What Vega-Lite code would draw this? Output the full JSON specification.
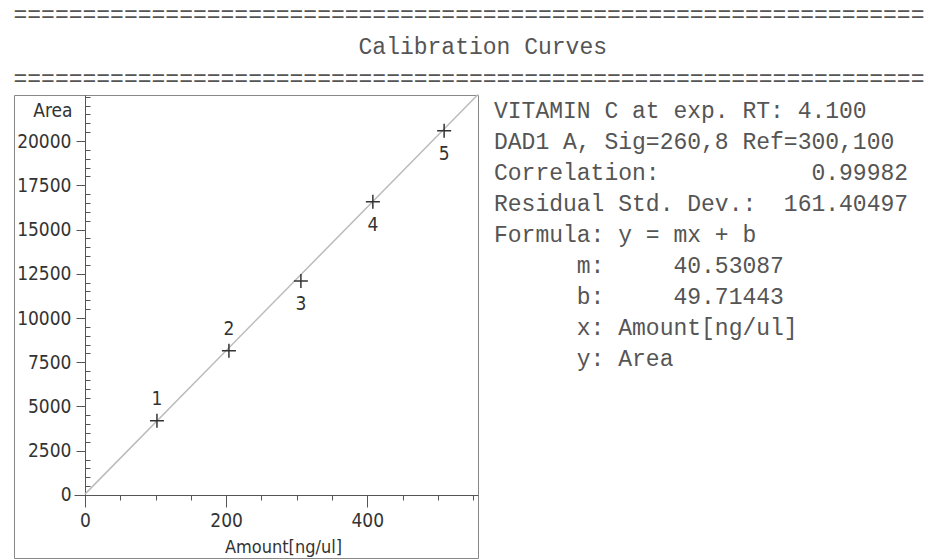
{
  "$schema": "https://vega.github.io/schema/vega-lite/v6.json",
  "background": "white",
  "padding": {"left": 13, "top": 4, "right": 0, "bottom": 0},
  "title": {
    "text": [
      "==================================================================",
      "\u200b\u00a0\u00a0\u00a0\u00a0\u00a0\u00a0\u00a0\u00a0\u00a0\u00a0\u00a0\u00a0\u00a0\u00a0\u00a0\u00a0\u00a0\u00a0\u00a0\u00a0\u00a0\u00a0\u00a0\u00a0\u00a0Calibration Curves",
      "=================================================================="
    ],
    "anchor": "start",
    "frame": "bounds",
    "align": "left",
    "font": "Liberation Mono",
    "fontSize": 23,
    "fontWeight": "normal",
    "lineHeight": 32,
    "color": "#555",
    "offset": 0
  },
  "datasets": {
    "peaks": [
      {"peak": 1, "amount": 102, "area": 4198},
      {"peak": 2, "amount": 204, "area": 8153},
      {"peak": 3, "amount": 306, "area": 12091},
      {"peak": 4, "amount": 408, "area": 16572},
      {"peak": 5, "amount": 509, "area": 20583}
    ],
    "fit": [
      {"amount": 0, "area": 49.7},
      {"amount": 557, "area": 22625}
    ],
    "report": [
      {"row": 1, "text": "VITAMIN C at exp. RT: 4.100"},
      {"row": 2, "text": "DAD1 A, Sig=260,8 Ref=300,100"},
      {"row": 3, "text": "Correlation:\u00a0\u00a0\u00a0\u00a0\u00a0\u00a0\u00a0\u00a0\u00a0\u00a0\u00a00.99982"},
      {"row": 4, "text": "Residual Std. Dev.:\u00a0\u00a0161.40497"},
      {"row": 5, "text": "Formula: y = mx + b"},
      {"row": 6, "text": "\u200b\u00a0\u00a0\u00a0\u00a0\u00a0\u00a0m:\u00a0\u00a0\u00a0\u00a0\u00a040.53087"},
      {"row": 7, "text": "\u200b\u00a0\u00a0\u00a0\u00a0\u00a0\u00a0b:\u00a0\u00a0\u00a0\u00a0\u00a049.71443"},
      {"row": 8, "text": "\u200b\u00a0\u00a0\u00a0\u00a0\u00a0\u00a0x: Amount[ng/ul]"},
      {"row": 9, "text": "\u200b\u00a0\u00a0\u00a0\u00a0\u00a0\u00a0y: Area"}
    ]
  },
  "spacing": 12,
  "hconcat": [
    {
      "width": 464,
      "height": 463,
      "view": {"stroke": "#888", "strokeWidth": 1},
      "encoding": {
        "x": {
          "field": "amount",
          "type": "quantitative",
          "scale": {"domain": [-100.6, 557], "nice": false, "zero": false},
          "axis": {
            "offset": -63,
            "domain": true,
            "domainColor": "#555",
            "domainDash": [0, 60, 404, 0],
            "values": [0, 50, 100, 150, 200, 250, 300, 350, 400, 450, 500, 550],
            "labelExpr": "datum.value % 200 === 0 ? datum.label : ''",
            "tickSize": {"condition": {"test": "datum.value % 200 === 0", "value": 12}, "value": 5},
            "tickColor": "#555",
            "grid": false,
            "labelFont": "Liberation Sans Narrow, DejaVu Sans Condensed, Liberation Sans",
            "labelFontSize": 19,
            "labelColor": "#333",
            "labelPadding": 4,
            "title": "Amount[ng/ul]",
            "titleX": 269,
            "titleAnchor": "middle",
            "titleFont": "Liberation Sans Narrow, DejaVu Sans Condensed, Liberation Sans",
            "titleFontSize": 18,
            "titleFontWeight": "normal",
            "titleColor": "#333",
            "titlePadding": 8
          }
        },
        "y": {
          "field": "area",
          "type": "quantitative",
          "scale": {"domain": [-3560, 22600], "nice": false, "zero": false},
          "axis": {
            "offset": -71,
            "domain": true,
            "domainColor": "#555",
            "domainDash": [0, 55, 408, 0],
            "values": [0, 500, 1000, 1500, 2000, 2500, 3000, 3500, 4000, 4500, 5000, 5500, 6000, 6500, 7000, 7500, 8000, 8500, 9000, 9500, 10000, 10500, 11000, 11500, 12000, 12500, 13000, 13500, 14000, 14500, 15000, 15500, 16000, 16500, 17000, 17500, 18000, 18500, 19000, 19500, 20000, 20500, 21000, 21500, 22000, 22500],
            "format": "d",
            "labelExpr": "datum.value % 2500 === 0 && datum.value <= 20000 ? datum.label : ''",
            "tickSize": {"condition": {"test": "datum.value % 2500 === 0 && datum.value <= 20000", "value": 9}, "value": -5},
            "tickColor": "#555",
            "grid": false,
            "labelFont": "Liberation Sans Narrow, DejaVu Sans Condensed, Liberation Sans",
            "labelFontSize": 19,
            "labelColor": "#333",
            "labelPadding": 5,
            "title": "Area",
            "titleAngle": 0,
            "titleX": -13,
            "titleY": 15,
            "titleAlign": "right",
            "titleBaseline": "middle",
            "titleFont": "Liberation Sans Narrow, DejaVu Sans Condensed, Liberation Sans",
            "titleFontSize": 19,
            "titleFontWeight": "normal",
            "titleColor": "#333"
          }
        }
      },
      "layer": [
        {
          "data": {"name": "fit"},
          "mark": {"type": "line", "color": "#bbb", "strokeWidth": 1.5}
        },
        {
          "data": {"name": "peaks"},
          "mark": {"type": "point", "shape": "M-1,0L1,0M0,-1L0,1", "filled": false, "stroke": "#333", "strokeWidth": 1.5, "size": 196, "opacity": 1}
        },
        {
          "data": {"name": "peaks"},
          "transform": [{"filter": "datum.peak <= 2"}],
          "mark": {"type": "text", "dy": -22, "font": "Liberation Sans Narrow, DejaVu Sans Condensed, Liberation Sans", "fontSize": 19, "color": "#333", "baseline": "middle"},
          "encoding": {"text": {"field": "peak"}}
        },
        {
          "data": {"name": "peaks"},
          "transform": [{"filter": "datum.peak > 2"}],
          "mark": {"type": "text", "dy": 23, "font": "Liberation Sans Narrow, DejaVu Sans Condensed, Liberation Sans", "fontSize": 19, "color": "#333", "baseline": "middle"},
          "encoding": {"text": {"field": "peak"}}
        }
      ]
    },
    {
      "width": 430,
      "height": 280,
      "view": {"stroke": null},
      "data": {"name": "report"},
      "mark": {"type": "text", "font": "Liberation Mono", "fontSize": 23, "align": "left", "baseline": "middle", "color": "#555"},
      "encoding": {
        "y": {"field": "row", "type": "ordinal", "axis": null},
        "x": {"value": 0},
        "text": {"field": "text"}
      }
    }
  ]
}
